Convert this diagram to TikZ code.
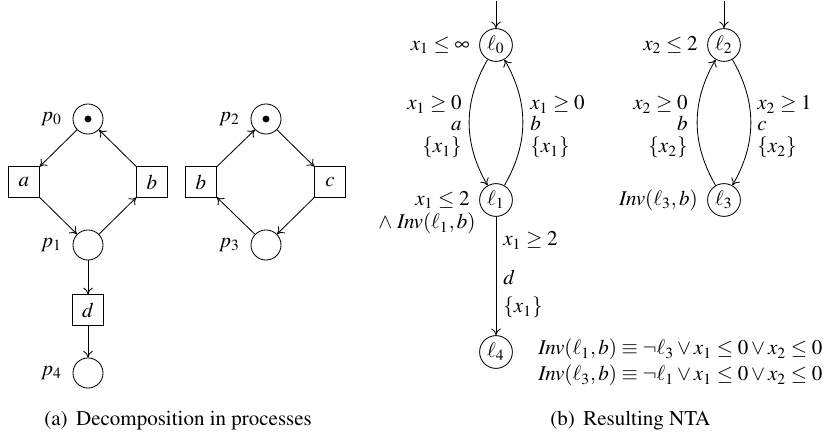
\documentclass[tikz,border=0pt]{standalone}
\usepackage[T1]{fontenc}
\usepackage{mathptmx}
\usetikzlibrary{arrows.meta}
\begin{document}
\begin{tikzpicture}[x=0.476pt,y=-0.476pt,
  >={To[length=3.2pt,width=4.6pt]},
  place/.style={circle,draw,minimum size=14.3pt,inner sep=0pt},
  trans/.style={rectangle,draw,minimum size=14.5pt,inner sep=0pt},
  loc/.style={circle,draw,minimum size=15.6pt,inner sep=0pt},
  tok/.style={circle,fill,inner sep=0pt,minimum size=3.3pt},
  plab/.style={label={[label distance=1.5pt]left:#1}},
  llab/.style={label={[label distance=1pt]left:#1}},
  elabr/.style={anchor=base east,inner sep=0pt},
  elabl/.style={anchor=base west,inner sep=0pt},
  arc/.style={->}]
\useasboundingbox (0,0) rectangle (826,439);
% ---- Petri net decomposition
\node[place,plab={$p_0$}] (p0) at (88,119) {};
\node[tok] (t0) at (p0) {};
\node[trans] (a) at (24,182) {$a$};
\node[trans] (b1) at (152,182) {$b$};
\node[place,plab={$p_1$}] (p1) at (88,245) {};
\node[trans] (d) at (88,310) {$d$};
\node[place,plab={$p_4$}] (p4) at (88,373) {};
\draw[arc] (p0) -- (a);
\draw[arc] (b1) -- (p0);
\draw[arc] (a) -- (p1);
\draw[arc] (p1) -- (b1);
\draw[arc] (p1) -- (d);
\draw[arc] (d) -- (p4);
\node[place,plab={$p_2$}] (p2) at (266,119) {};
\node[tok] (t2) at (p2) {};
\node[trans] (b2) at (201,182) {$b$};
\node[trans] (c) at (330,182) {$c$};
\node[place,plab={$p_3$}] (p3) at (266,245) {};
\draw[arc] (b2) -- (p2);
\draw[arc] (p2) -- (c);
\draw[arc] (c) -- (p3);
\draw[arc] (p3) -- (b2);
\node[anchor=base west,inner sep=0pt] (capa) at (44,426) {(a)\hspace{4pt}Decomposition in processes};
% ---- NTA
\coordinate (i0) at (496,1);
\coordinate (i2) at (724,1);
\node[loc,llab={$x_1\leq\infty$}] (l0) at (496,45) {$\ell_0$};
\node[loc,llab={$x_1\leq 2$}] (l1) at (496,200) {$\ell_1$};
\node[loc] (l4) at (496,352) {$\ell_4$};
\node[loc,llab={$x_2\leq 2$}] (l2) at (724,45) {$\ell_2$};
\node[loc,llab={$\mathit{Inv}(\ell_3,b)$}] (l3) at (724,200) {$\ell_3$};
\node[anchor=base east,inner sep=0pt] (inv1) at (476,229) {$\wedge\;\mathit{Inv}(\ell_1,b)$};
\draw[arc] (i0) -- (l0);
\draw[arc] (i2) -- (l2);
\draw[arc] (l0) to[bend right=30] (l1);
\draw[arc] (l1) to[bend right=30] (l0);
\draw[arc] (l1) -- (l4);
\draw[arc] (l3) to[bend left=30] (l2);
\draw[arc] (l2) to[bend left=30] (l3);
% edge labels
\node[elabr] (g1) at (462,110) {$x_1\geq 0$};
\node[elabr] (s1) at (462,131) {$a$};
\node[elabr] (r1) at (462,153) {$\{x_1\}$};
\node[elabl] (g2) at (530,110) {$x_1\geq 0$};
\node[elabl] (s2) at (530,131) {$b$};
\node[elabl] (r2) at (530,153) {$\{x_1\}$};
\node[elabl] (g3) at (503,246) {$x_1\geq 2$};
\node[elabl] (s3) at (503,285) {$d$};
\node[elabl] (r3) at (503,313) {$\{x_1\}$};
\node[elabr] (g4) at (688,110) {$x_2\geq 0$};
\node[elabr] (s4) at (688,131) {$b$};
\node[elabr] (r4) at (688,153) {$\{x_2\}$};
\node[elabl] (g5) at (757,110) {$x_2\geq 1$};
\node[elabl] (s5) at (757,131) {$c$};
\node[elabl] (r5) at (757,153) {$\{x_2\}$};
\node[anchor=base west,inner sep=0pt] (f1) at (538,355) {$\mathit{Inv}(\ell_1,b)\equiv\neg\ell_3\vee x_1\leq 0\vee x_2\leq 0$};
\node[anchor=base west,inner sep=0pt] (f2) at (538,381) {$\mathit{Inv}(\ell_3,b)\equiv\neg\ell_1\vee x_1\leq 0\vee x_2\leq 0$};
\node[anchor=base west,inner sep=0pt] (capb) at (550,426) {(b)\hspace{4pt}Resulting NTA};
\end{tikzpicture}
\end{document}
